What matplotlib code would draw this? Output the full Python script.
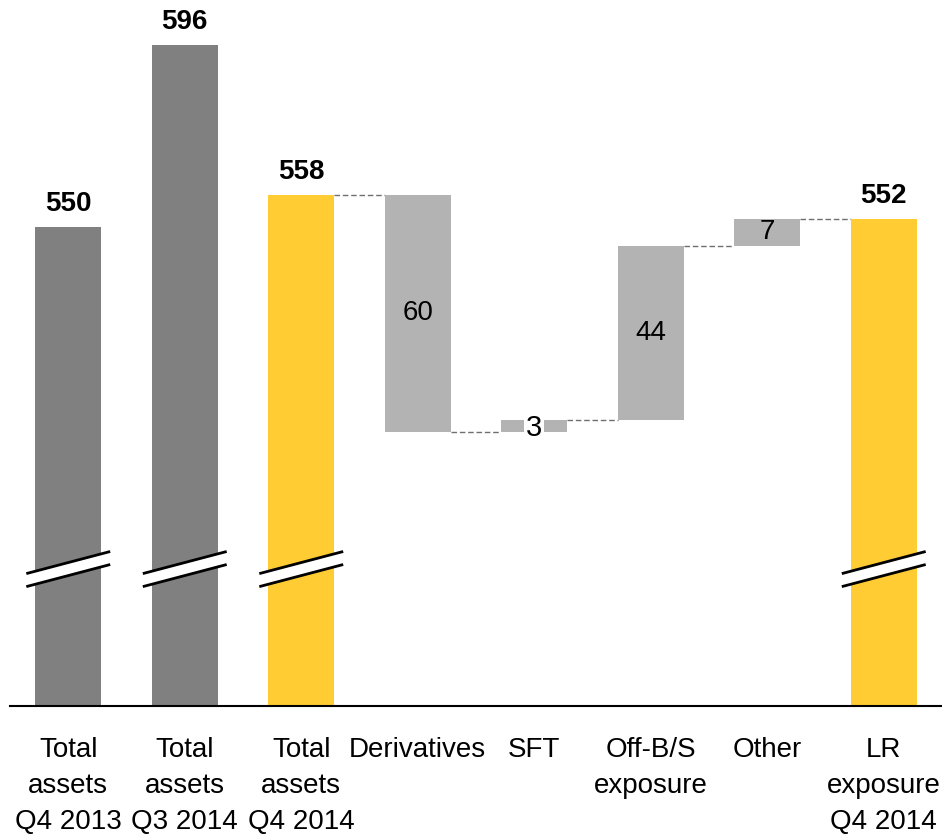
import numpy as np
import matplotlib.pyplot as plt

plt.rcParams['font.family'] = ['Liberation Sans', 'DejaVu Sans']

categories = ["Total\nassets\nQ4 2013", "Total\nassets\nQ3 2014", "Total\nassets\nQ4 2014",
              "Derivatives", "SFT", "Off-B/S\nexposure", "Other", "LR\nexposure\nQ4 2014"]
totals = [550, 596, 558]        # first three bars
steps = [-60, 3, 44, 7]         # Derivatives, SFT, Off-B/S, Other
final_total = 552               # LR exposure

dark = "#808080"
yellow = "#FFCC33"
light = "#B3B3B3"
ymin, ymax = 428.5, 607.4
w = 0.567

fig = plt.figure(figsize=(9.42, 8.35), dpi=100)
ax = fig.add_axes([10 / 942, 1 - 706 / 835, 932 / 942, 706 / 835])
ax.set_xlim(-0.5, 7.5)
ax.set_ylim(ymin, ymax)

# totals
tot_x = [0, 1, 2, 7]
tot_v = totals + [final_total]
tot_c = [dark, dark, yellow, yellow]
for x, v, c in zip(tot_x, tot_v, tot_c):
    ax.bar(x, v - ymin, bottom=ymin, width=w, color=c, zorder=2)
    ax.text(x, v + 2.5, str(v), ha="center", va="bottom", fontsize=20, fontweight="bold")

# waterfall steps
level = totals[-1]
prev_right = 2 + w / 2
for i, s in enumerate(steps):
    x = 3 + i
    new = level + s
    lo, hi = min(level, new), max(level, new)
    ax.bar(x, hi - lo, bottom=lo, width=w, color=light, zorder=2)
    ax.plot([prev_right, x - w / 2], [level, level], color="#707070", lw=1, ls=(0, (4, 2)), zorder=1)
    label = str(abs(s))
    if hi - lo < 5:
        ax.text(x, (lo + hi) / 2 - 0.6, label, ha="center", va="center", fontsize=21,
                bbox=dict(facecolor="white", edgecolor="none", pad=1.5), zorder=3)
    else:
        ax.text(x, (lo + hi) / 2, label, ha="center", va="center", fontsize=20, zorder=3)
    level = new
    prev_right = x + w / 2
ax.plot([prev_right, 7 - w / 2], [level, level], color="#707070", lw=1, ls=(0, (4, 2)), zorder=1)

# axis breaks
def draw_break(x, yc):
    hw, rise, gap = 0.36, 2.8, 1.65
    xs = np.array([x - hw, x + hw])
    y1 = np.array([yc - rise + gap, yc + rise + gap])
    y2 = np.array([yc - rise - gap, yc + rise - gap])
    ax.fill_between(xs, y2, y1, color="white", zorder=4, lw=0)
    ax.plot(xs, y1, color="black", lw=2, zorder=5, solid_capstyle="butt")
    ax.plot(xs, y2, color="black", lw=2, zorder=5, solid_capstyle="butt")

for x in tot_x:
    draw_break(x, 463.2)

for sp in ["top", "left", "right"]:
    ax.spines[sp].set_visible(False)
ax.spines["bottom"].set_linewidth(1.5)
ax.set_yticks([])
ax.set_xticks(range(len(categories)))
ax.set_xticklabels(categories, fontsize=20, linespacing=1.5)
ax.tick_params(axis="x", length=0, pad=22)

fig.savefig("out.png", dpi=100)
